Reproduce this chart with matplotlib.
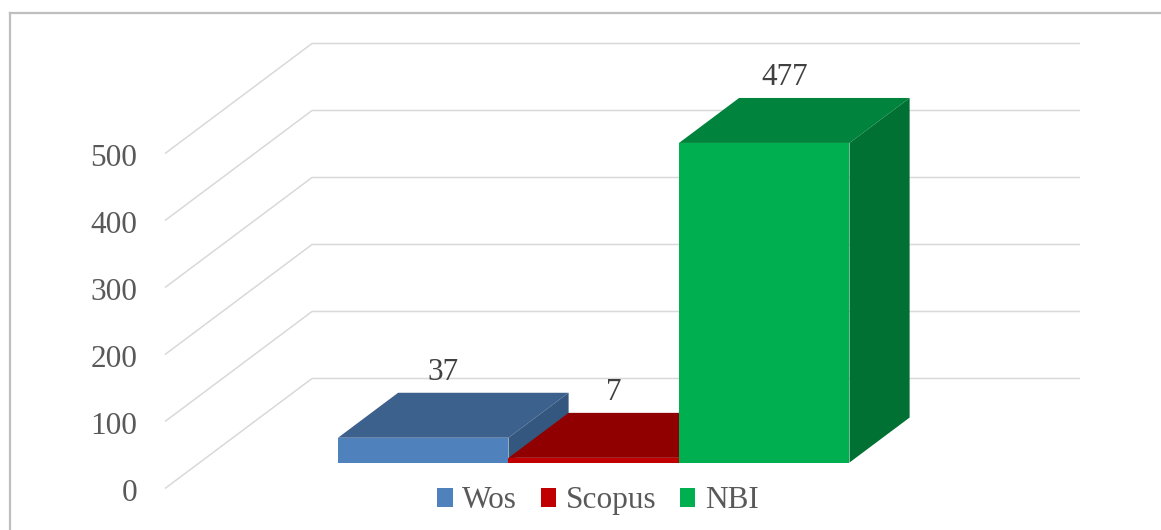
import matplotlib.pyplot as plt
from matplotlib.patches import Polygon, Patch
from matplotlib.lines import Line2D

# data
series = ['Wos', 'Scopus', 'NBI']
values = [37, 7, 477]
yticks = [0, 100, 200, 300, 400, 500]

front_colors = ['#4F81BD', '#C00000', '#00B050']
top_colors = ['#3D618D', '#900000', '#00843D']
side_colors = ['#34577F', '#7A0000', '#007033']

# layout (pixels) of the excel-like oblique 3d view
W, H = 1161, 530
PX = 0.67            # pixels per value unit
Y0 = 488.5           # pixel row of value 0 on the front plane
DX = 147             # depth shift in x (pixels)
DY = 110 / PX        # depth shift in y (value units)
GRID_X0, GRID_X1 = 165, 1080
BAR_X0, BAR_W = 303.3, 170.5
D0, D1 = 0.236, 0.645
TXT_DROP = 5 / PX    # text 'center' sits a bit high, push it down
FONT = 'Liberation Serif'
FS = 22.5

fig = plt.figure(figsize=(W / 100, H / 100), dpi=100)
ax = fig.add_axes([0, 0, 1, 1])
ax.set_xlim(0, W)
ax.set_ylim(-(H - Y0) / PX, Y0 / PX)
ax.axis('off')


def pt(x, v, d):
    return (x + d * DX, v + d * DY)


# gridlines: front diagonal + back wall line
for t in yticks:
    ax.plot([GRID_X0, GRID_X0 + DX, GRID_X1], [t, t + DY, t + DY],
            color='#D9D9D9', lw=1.1, zorder=1, solid_capstyle='butt')
    ax.text(137, t - TXT_DROP, str(t), ha='right', va='center', fontsize=FS,
            family=FONT, color='#595959')

# bars
for i, v in enumerate(values):
    x = BAR_X0 + i * BAR_W
    z = 2 + i
    top = [pt(x, v, D0), pt(x + BAR_W, v, D0), pt(x + BAR_W, v, D1), pt(x, v, D1)]
    side = [pt(x + BAR_W, 0, D0), pt(x + BAR_W, 0, D1), pt(x + BAR_W, v, D1), pt(x + BAR_W, v, D0)]
    front = [pt(x, 0, D0), pt(x + BAR_W, 0, D0), pt(x + BAR_W, v, D0), pt(x, v, D0)]
    ax.add_patch(Polygon(top, closed=True, fc=top_colors[i], ec='none', zorder=z))
    ax.add_patch(Polygon(side, closed=True, fc=side_colors[i], ec='none', zorder=z))
    ax.add_patch(Polygon(front, closed=True, fc=front_colors[i], ec='none', zorder=z))
    cx = x + BAR_W / 2 + (D0 + D1) / 2 * DX - 10
    cy = v + D1 * DY + 25 / PX - TXT_DROP
    ax.text(cx, cy, str(v), ha='center', va='center', fontsize=FS,
            family=FONT, color='#404040', zorder=10)

# legend
handles = [Patch(fc=c, ec='none') for c in front_colors]
fig.legend(handles, series, loc='center', bbox_to_anchor=(0.515, 0.055), ncol=3,
           frameon=False, handlelength=0.5, handleheight=0.55, handletextpad=0.3,
           columnspacing=0.75, prop={'family': FONT, 'size': FS}, labelcolor='#595959')

# chart area border (top and left visible)
fig.add_artist(Line2D([9.5 / W, 9.5 / W], [0, 1 - 12.5 / H], color='#BFBFBF', lw=1.6))
fig.add_artist(Line2D([9.5 / W, 1], [1 - 12.5 / H, 1 - 12.5 / H], color='#BFBFBF', lw=1.6))

fig.savefig('out.png', dpi=100)
